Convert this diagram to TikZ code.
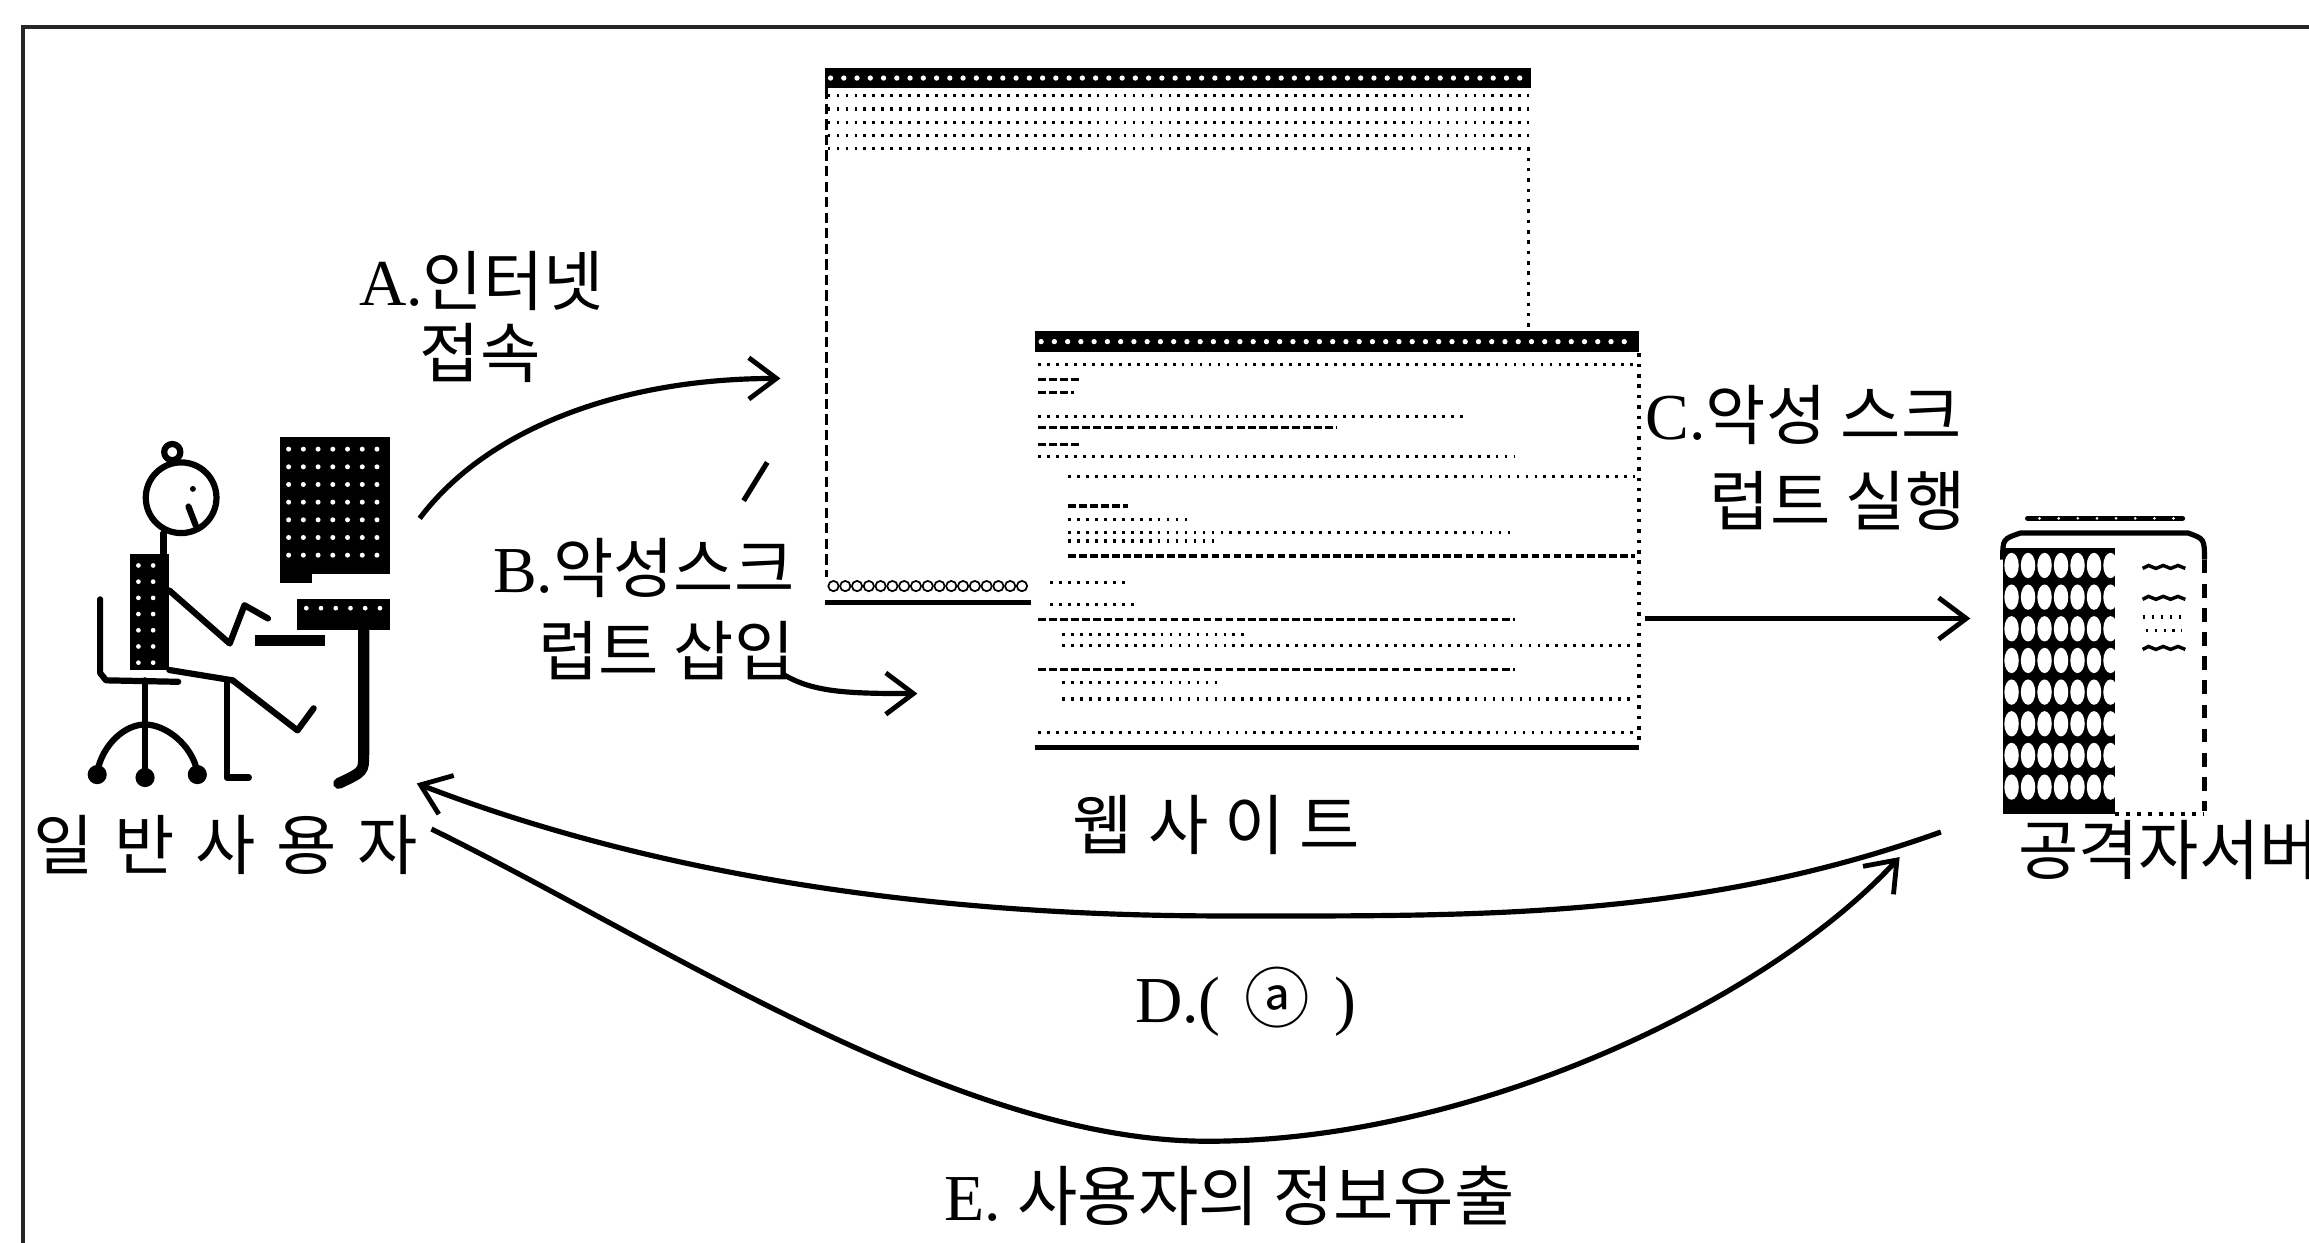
\documentclass[tikz,border=0pt]{standalone}
\usepackage{fontspec}
\setmainfont{Liberation Serif}
\newfontfamily\kr{Noto Sans CJK KR}
\usetikzlibrary{arrows.meta}

\begin{document}
\begin{tikzpicture}[x=0.015cm,y=-0.015cm,
  flow/.style={line width=1.5pt,-{Straight Barb[length=8pt,width=12pt,line width=1.4pt]}},
  lbl/.style={font=\fontsize{19}{20}\selectfont, inner sep=0pt},
  ink/.style={line width=1.8pt, line cap=round, line join=round},
  txt/.style={line width=0.9pt, dash pattern=on 2.2pt off 1pt},
  txtd/.style={line width=0.9pt, dash pattern=on 0.8pt off 1.8pt},
  holes/.style={white},
]
\clip (0,0) rectangle (1568,844);
\fill[white] (0,0) rectangle (1568,844);

% outer frame (top and left edges)
\draw[line width=1pt, black!85] (15.6,844) -- (15.6,18.3) -- (1568,18.3);

% ---------- user at the desk ----------
% chair
\draw[ink] (68,407) -- (68,457) -- (72,462) -- (121,463);
\draw[ink] (98.5,462) -- (98.5,526);
\draw[ink] (98.5,492) .. controls (85,492) and (70,505) .. (66,524);
\draw[ink] (98.5,492) .. controls (112,492) and (130,505) .. (134,524);
\fill (66,526) circle (6.5);
\fill (98.5,528) circle (6.5);
\fill (134,526) circle (6.5);
% torso
\fill (88,376) rectangle (115,455);
\foreach \x in {94,104} \foreach \y in {384,395,...,450} \fill[holes] (\x,\y) circle (1.6);
% head, bun, face
\draw[ink] (123,338) circle (24);
\draw[ink] (117,307) circle (5.5);
\draw[ink] (128,344) -- (133,357);
\fill (131,332) circle (2);
% neck, arm, legs
\draw[ink] (111,362) -- (111,376);
\draw[ink] (115,401) -- (156,437) -- (166,411) -- (182,420);
\draw[ink] (115,455) -- (158,462);
\draw[ink] (154,462) -- (154,528) -- (169,528);
\draw[ink] (158,462) -- (202,496) -- (213,481);
% monitor
\fill (190,297) rectangle (265,390);
\fill (190,388) rectangle (212,396);
\foreach \x in {196,206,...,260} \foreach \y in {305,317,...,385} \fill[holes] (\x,\y) circle (1.7);
% desk, keyboard, desk leg
\fill (202,407) rectangle (265,428);
\foreach \x in {208,218,...,260} \fill[holes] (\x,413) circle (1.6);
\fill (173,431) rectangle (221,439);
\draw[line width=3.2pt, line cap=round] (247,428) -- (247,512) .. controls (247,524) .. (230,532);
\coordinate (user) at (160,420);

% ---------- back browser window ----------
\fill[white] (560,45) rectangle (1040,410);
\fill (560,46) rectangle (1040,60);
\foreach \x in {564,573,...,1036} \fill[holes] (\x,53) circle (1.8);
\foreach \y in {65,74,83,92,101} \draw[txtd] (562,\y) -- (1038,\y);
\draw[line width=0.8pt, dash pattern=on 3pt off 1.5pt] (561,60) -- (561,392);
\draw[line width=1pt, dotted] (1038,100) -- (1038,226);
\foreach \x in {566,574,...,698} \draw[line width=0.5pt] (\x,398) circle (3.5);
\draw[line width=1.6pt] (560,409) -- (702,409);

% ---------- front browser window ----------
\fill[white] (700,225) rectangle (1117,510);
\fill (703,225) rectangle (1113,239);
\foreach \x in {707,716,...,1110} \fill[holes] (\x,232) circle (1.8);
\foreach \y/\a/\b/\s in {247.6/0/1/txtd, 257.8/0/0.07/txt, 266.8/0/0.06/txt,
    282.6/0/0.72/txtd, 290.5/0/0.5/txt, 301.8/0/0.07/txt, 309.8/0/0.8/txtd,
    323.3/0.05/1/txtd, 343.6/0.05/0.15/txt, 352.7/0.05/0.25/txtd,
    361.7/0.05/0.8/txtd, 367.4/0.05/0.3/txtd, 377.6/0.05/1/txt,
    395.6/0.02/0.15/txtd, 410.3/0.02/0.17/txtd, 420.5/0/0.8/txt,
    430.7/0.04/0.35/txtd, 438.6/0.04/1/txtd, 454.4/0/0.8/txt,
    463.4/0.04/0.3/txtd, 474.7/0.04/1/txtd, 497.3/0/1/txtd}
  \draw[\s] ({705+\a*405},\y) -- ({705+\b*405},\y);
\draw[line width=1pt, dotted] (1113,240) -- (1113,505);
\draw[line width=1.3pt] (703,507.5) -- (1113,507.5);
\coordinate (webL) at (700,400);

% ---------- attacker server ----------
\draw[line width=1.6pt, line cap=round] (1377,352) -- (1482,352);
\foreach \x in {1385,1398,...,1480} \fill[holes] (\x,352) circle (1);
\draw[line width=1.5pt] (1360,380) .. controls (1360,366) .. (1372,362) -- (1486,362) .. controls (1497,366) .. (1497,380);
\fill (1360,372) rectangle (1436,553);
\foreach \j in {0,...,6} \foreach \k in {0,...,7}
  \fill[holes] ({1366+11.2*\j},{384+21.5*\k}) ellipse (4.9 and 8.6);
\draw[line width=1.4pt, dash pattern=on 4pt off 3pt] (1497,380) -- (1497,551);
\draw[line width=1.2pt, dotted] (1436,553) -- (1497,553);
\foreach \y in {386,407,441}
  \draw[line width=1pt] (1455,\y) -- (1459,\y-2) -- (1464,\y) -- (1469,\y-2) -- (1474,\y) -- (1479,\y-2) -- (1484,\y);
\draw[txtd] (1455,419) -- (1484,419);
\draw[txtd] (1457,428) -- (1482,428);
\coordinate (srv) at (1430,450);

% ---------- labels ----------
\node[lbl] (usrlbl) at (153,574) {\kr 일\kern6pt 반\kern6pt 사\kern6pt 용\kern6pt 자};
\node[lbl] (weblbl) at (826,560) {\kr 웹\kern4.5pt 사\kern4.5pt 이\kern4.5pt 트};
\node[lbl, anchor=west] (srvlbl) at (1370,577) {\kr 공격자서버};

\node[lbl] (a1) at (327,191) {A.{\kr 인터넷}};
\node[lbl] (a2) at (326,240) {\kr 접속};
\node[lbl, anchor=east] (b1) at (540,386) {B.{\kr 악성스크}};
\node[lbl, anchor=east] (b2) at (540,442) {\kr 럽트 삽입};
\node[lbl, anchor=west] (c1) at (1117,282) {C.{\kr 악성 스크}};
\node[lbl] (c2) at (1248,340) {\kr 럽트 실행};
\node[lbl] (d) at (846,680) {D.(\hspace{7pt}{\kr ⓐ}\hspace{7pt})};
\node[lbl] (e) at (835,812) {E. {\kr 사용자의 정보유출}};

% ---------- connectors ----------
\coordinate (aS) at (285,352);  \coordinate (aE) at (530,257);
\coordinate (bS) at (532,458);  \coordinate (bE) at (623,471);
\coordinate (cS) at (1117,420); \coordinate (cE) at (1338,420);
\coordinate (dS) at (1318,565); \coordinate (dE) at (283,532);
\coordinate (eS) at (293,563);  \coordinate (eE) at (1290,582);

\draw[flow] (aS) .. controls (330,292) and (420,257) .. (aE);
\draw[line width=1.5pt] (505,340) -- (521,314);
\draw[flow] (bS) .. controls (552,470) and (575,471) .. (bE);
\draw[flow] (cS) -- (cE);
\draw[flow] (dS) .. controls (1150,625) and (1000,622) .. (830,622)
                 .. controls (600,622) and (420,585) .. (dE);
\draw[flow] (eS) .. controls (450,640) and (650,775) .. (820,775)
                 .. controls (1000,775) and (1200,680) .. (eE);
\end{tikzpicture}
\end{document}
